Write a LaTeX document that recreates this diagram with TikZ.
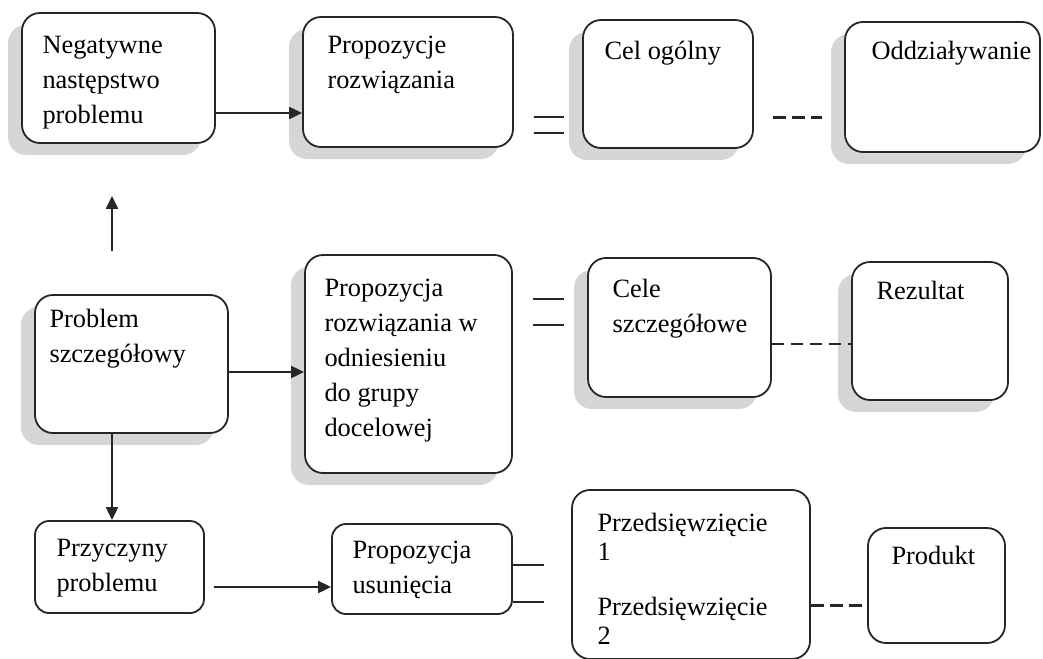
\documentclass[tikz,border=0pt]{standalone}
\usepackage{fontspec}
\setmainfont{Liberation Serif}
\usetikzlibrary{shapes,arrows.meta,shadows}

\begin{document}
\begin{tikzpicture}[x=0.5pt,y=-0.5pt,>={Triangle[length=6.5pt,width=6pt]}]
  \tikzstyle{box} = [rectangle, draw=black!85, line width=0.9pt, rounded corners=9pt, fill=white, inner sep=0pt]
  \tikzstyle{shbox} = [box, drop shadow={shadow xshift=-7pt, shadow yshift=-6pt, fill=black!16, opacity=1}]
  \tikzstyle{txt} = [anchor=north west, align=left, inner sep=0pt, font=\fontsize{13.2}{17.5}\selectfont]
  \tikzstyle{line} = [line width=1pt, draw=black!85]
  \tikzstyle{thickdash} = [line width=1.5pt, draw=black!85, dash pattern=on 6.5pt off 3pt]
  \tikzstyle{thindash} = [line width=1pt, draw=black!85, dash pattern=on 6pt off 3.5pt]

  \useasboundingbox (0,0) rectangle (1043,658);

  % first row
  \node (negat) [shbox, minimum width=96.5pt, minimum height=65pt] at (118.5,78) {};
  \node (propA) [shbox, minimum width=105pt, minimum height=65pt] at (408,82) {};
  \node (celog) [shbox, minimum width=85pt, minimum height=64pt] at (668,84) {};
  \node (oddz) [shbox, minimum width=97.5pt, minimum height=65pt] at (942.5,87) {};
  % second row
  \node (probl) [shbox, minimum width=96.5pt, minimum height=69pt] at (131.5,364) {};
  \node (propB) [shbox, minimum width=103.5pt, minimum height=109pt] at (408.5,364) {};
  \node (celsz) [shbox, minimum width=91.5pt, minimum height=69.5pt] at (679.5,327.5) {};
  \node (rezult) [shbox, minimum width=78pt, minimum height=69pt] at (930,331) {};
  % third row
  \node (przycz) [box, rounded corners=7pt, minimum width=84.5pt, minimum height=46pt] at (119.5,567) {};
  \node (propC) [box, rounded corners=7pt, minimum width=90pt, minimum height=45pt] at (422,569) {};
  \node (przeds) [box, minimum width=119pt, minimum height=84.5pt] at (691,574.5) {};
  \node (produkt) [box, minimum width=68.5pt, minimum height=57.5pt] at (936.5,585.5) {};

  % texts
  \node (negat-t) [txt] at ([shift={(10.5pt,-12pt)}]negat.north west) {Negatywne\\następstwo\\problemu};
  \node (propA-t) [txt] at ([shift={(12.5pt,-10pt)}]propA.north west) {Propozycje\\rozwiązania};
  \node (celog-t) [txt] at ([shift={(11pt,-11pt)}]celog.north west) {Cel ogólny};
  \node (oddz-t) [txt] at ([shift={(13.5pt,-10pt)}]oddz.north west) {Oddziaływanie};
  \node (probl-t) [txt] at ([shift={(7.5pt,-7.5pt)}]probl.north west) {Problem\\szczegółowy};
  \node (propB-t) [txt] at ([shift={(10pt,-12.5pt)}]propB.north west) {Propozycja\\rozwiązania w\\odniesieniu\\do grupy\\docelowej};
  \node (celsz-t) [txt] at ([shift={(12.5pt,-11pt)}]celsz.north west) {Cele\\szczegółowe};
  \node (rezult-t) [txt] at ([shift={(12.5pt,-10pt)}]rezult.north west) {Rezultat};
  \node (przycz-t) [txt] at ([shift={(11pt,-9.5pt)}]przycz.north west) {Przyczyny\\problemu};
  \node (propC-t) [txt] at ([shift={(10.5pt,-9pt)}]propC.north west) {Propozycja\\usunięcia};
  \node (przeds-t) [txt, font=\fontsize{13.2}{14.5}\selectfont] at ([shift={(13pt,-12pt)}]przeds.north west) {Przedsięwzięcie\\1\\[13pt]Przedsięwzięcie\\2};
  \node (produkt-t) [txt] at ([shift={(12pt,-9.5pt)}]produkt.north west) {Produkt};

  % arrows
  \draw [line,->] (negat.east) ++(0,35) coordinate (a1) -- (a1 -| propA.west);
  \draw [line,->] (probl.east) ++(0,8) coordinate (b1) -- (b1 -| propB.west);
  \draw [line,->,shorten <=4.5pt] (przycz.east) ++(0,20) coordinate (c1) -- (c1 -| propC.west);
  \draw [line,->] (probl.south) ++(-19.5,0) coordinate (b2) -- (b2 |- przycz.north);
  \draw [line,->,shorten <=21.5pt,shorten >=26pt] (probl.north) ++(-19.5,0) coordinate (b3) -- (b3 |- negat.south);

  % double lines
  \draw [line,shorten <=10pt,shorten >=9pt] (propA.east) ++(0,35) coordinate (a2) -- (a2 -| celog.west);
  \draw [line,shorten <=10pt,shorten >=9pt] (propA.east) ++(0,51) coordinate (a3) -- (a3 -| celog.west);
  \draw [line,shorten <=10pt,shorten >=11.5pt] (propB.east) ++(0,-65) coordinate (b4) -- (b4 -| celsz.west);
  \draw [line,shorten <=10pt,shorten >=11.5pt] (propB.east) ++(0,-39) coordinate (b5) -- (b5 -| celsz.west);
  \draw [line,shorten >=13.5pt] (propC.east) ++(0,-4) coordinate (c2) -- (c2 -| przeds.west);
  \draw [line,shorten >=13.5pt] (propC.east) ++(0,33) coordinate (c3) -- (c3 -| przeds.west);

  % dashed lines
  \draw [thickdash,shorten <=9.5pt,shorten >=11pt] (celog.east) ++(0,34) coordinate (a4) -- (a4 -| oddz.west);
  \draw [thindash] (celsz.east) ++(0,16.5) coordinate (b6) -- (b6 -| rezult.west);
  \draw [thickdash] (przeds.east) ++(0,30.5) coordinate (c4) -- (c4 -| produkt.west);
\end{tikzpicture}
\end{document}
